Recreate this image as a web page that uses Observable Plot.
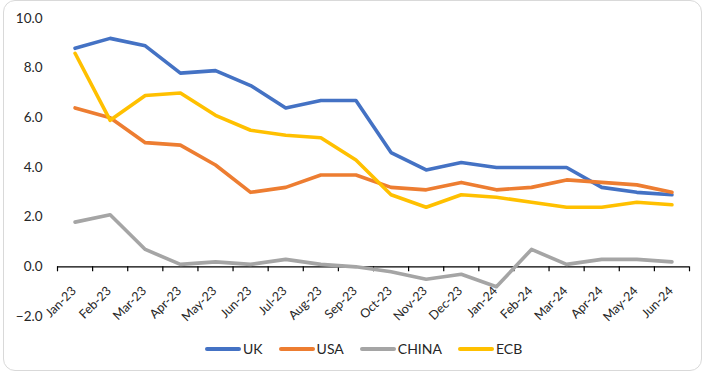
<!DOCTYPE html>
<html>
<head>
<meta charset="utf-8">
<script src="https://cdn.jsdelivr.net/npm/d3@7"></script>
<script src="https://cdn.jsdelivr.net/npm/@observablehq/plot@0.6"></script>
<style>
  html, body { margin: 0; padding: 0; background: #fff; }
  body { width: 706px; height: 373px; position: relative; overflow: hidden; font-family: Lato, "Open Sans", sans-serif; }
  #frame { position: absolute; left: 3px; top: 0px; width: 699px; height: 371px; border: 1px solid #d9d9d9; border-radius: 12px; box-sizing: border-box; }
  #chart { position: absolute; left: 0; top: 0; }
  #legend { position: absolute; left: 205px; top: 340px; display: flex; justify-content: flex-start; font-size: 14px; color: #262626; }
  .item { display: flex; align-items: center; margin-right: 16px; }
  .sw { width: 36px; height: 4px; border-radius: 2px; margin-right: 2px; }
</style>
</head>
<body>
<div id="frame"></div>
<div id="chart"></div>
<div id="legend"></div>
<script>
const months = ["Jan-23","Feb-23","Mar-23","Apr-23","May-23","Jun-23","Jul-23","Aug-23","Sep-23","Oct-23","Nov-23","Dec-23","Jan-24","Feb-24","Mar-24","Apr-24","May-24","Jun-24"];
const uk    = [8.8, 9.2, 8.9, 7.8, 7.9, 7.3, 6.4, 6.7, 6.7, 4.6, 3.9, 4.2, 4.0, 4.0, 4.0, 3.2, 3.0, 2.9];
const usa   = [6.4, 6.0, 5.0, 4.9, 4.1, 3.0, 3.2, 3.7, 3.7, 3.2, 3.1, 3.4, 3.1, 3.2, 3.5, 3.4, 3.3, 3.0];
const china = [1.8, 2.1, 0.7, 0.1, 0.2, 0.1, 0.3, 0.1, 0.0, -0.2, -0.5, -0.3, -0.8, 0.7, 0.1, 0.3, 0.3, 0.2];
const ecb   = [8.6, 5.9, 6.9, 7.0, 6.1, 5.5, 5.3, 5.2, 4.3, 2.9, 2.4, 2.9, 2.8, 2.6, 2.4, 2.4, 2.6, 2.5];
const seriesNames = ["UK", "USA", "CHINA", "ECB"];
const seriesColors = ["#4472C4", "#ED7D31", "#A5A5A5", "#FFC000"];
const yTicks = [-2, 0, 2, 4, 6, 8, 10];

const seriesValues = [uk, usa, china, ecb];
const rows = [];
seriesNames.forEach((name, s) => seriesValues[s].forEach((v, i) => rows.push({series: name, i, month: months[i], value: v})));
const boundaries = d3.range(months.length + 1).map(i => i - 0.5);
const labels = months.map((m, i) => ({i, m}));

const chart = Plot.plot({
  width: 706,
  height: 335,
  marginLeft: 57,
  marginRight: 17,
  marginTop: 18,
  marginBottom: 19,
  style: {fontFamily: "Lato, 'Open Sans', sans-serif", fontSize: "13px", color: "#262626", background: "transparent", overflow: "visible"},
  x: {type: "linear", domain: [-0.5, months.length - 0.5], axis: null},
  y: {domain: [-2, 10], axis: null},
  color: {domain: seriesNames, range: seriesColors},
  marks: [
    Plot.axisY(yTicks, {tickSize: 0, tickPadding: 15, tickFormat: d3.format(".1f"), label: null, fontSize: 13.5}),
    Plot.ruleY([0], {stroke: "#000", strokeWidth: 1.2}),
    Plot.ruleX(boundaries, {x: d => d, y1: 0, y2: -0.2, stroke: "#000", strokeWidth: 1.2}),
    Plot.text(labels, {x: "i", y: 0, text: "m", rotate: -45, textAnchor: "end", dx: -1, dy: 22, fontSize: 12.5, fill: "#262626"}),
    Plot.line(rows, {x: "i", y: "value", z: "series", stroke: "series", strokeWidth: 3.6, strokeLinejoin: "round", strokeLinecap: "round"})
  ]
});
document.getElementById("chart").appendChild(chart);

const legend = document.getElementById("legend");
seriesNames.forEach((name, s) => {
  const item = document.createElement("div");
  item.className = "item";
  const sw = document.createElement("span");
  sw.className = "sw";
  sw.style.background = seriesColors[s];
  const t = document.createElement("span");
  t.textContent = name;
  item.appendChild(sw);
  item.appendChild(t);
  legend.appendChild(item);
});
</script>
</body>
</html>
